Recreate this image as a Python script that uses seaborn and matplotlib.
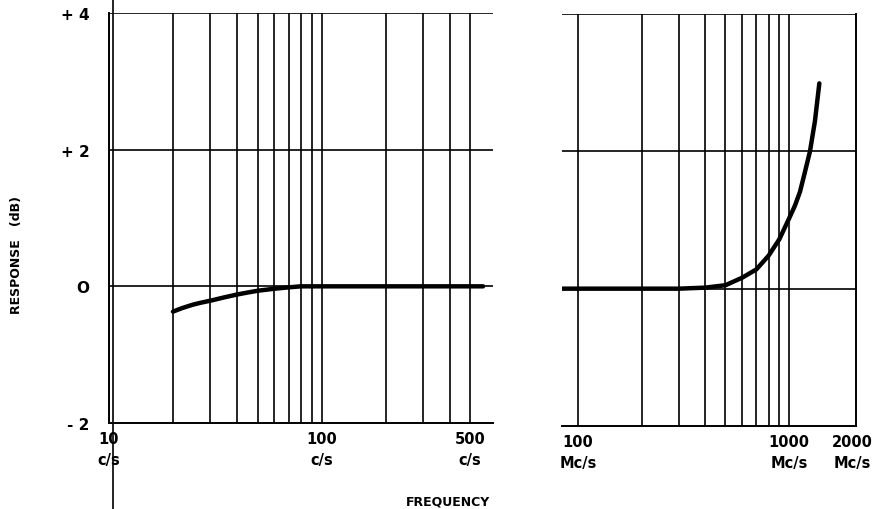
import numpy as np
import pandas as pd
import matplotlib
matplotlib.use("Agg")
import matplotlib.pyplot as plt
import seaborn as sns
from matplotlib.lines import Line2D

# ---------------- data ----------------
low_freq = [20, 22, 24.7, 27, 30, 35, 40, 45, 50, 60, 70, 80, 100, 200, 300, 500, 575]   # c/s
low_resp = [-0.37, -0.32, -0.27, -0.24, -0.21, -0.16, -0.12, -0.09, -0.065, -0.035,
            -0.015, 0.0, 0.0, 0.0, 0.0, 0.0, 0.0]

high_freq = [84, 100, 200, 300, 400, 500, 600, 700, 800, 900, 1000, 1067, 1127,
             1190, 1257, 1327, 1392]   # Mc/s
high_resp = [0.0, 0.0, 0.0, 0.0, 0.015, 0.05, 0.16, 0.28, 0.48, 0.72, 1.02, 1.21, 1.41,
             1.70, 2.0, 2.44, 2.99]

y_ticks = [-2, 0, 2, 4]
y_tick_labels = ["- 2", "O", "+ 2", "+ 4"]

low_grid = [10, 20, 30, 40, 50, 60, 70, 80, 90, 100, 200, 300, 400, 500]
low_ticks = [10, 100, 500]
low_tick_labels = ["10\nc/s", "100\nc/s", "500\nc/s"]

high_grid = [100, 200, 300, 400, 500, 600, 700, 800, 900, 1000]
high_ticks = [100, 1000, 2000]
high_tick_labels = ["100\nMc/s", "1000\nMc/s", "2000\nMc/s"]

df_low = pd.DataFrame({"freq": low_freq, "resp": low_resp})
df_high = pd.DataFrame({"freq": high_freq, "resp": high_resp})

# ---------------- figure ----------------
sns.set_theme(style="white")
plt.rcParams["font.family"] = ["DejaVu Sans"]
plt.rcParams["text.color"] = "black"
plt.rcParams["xtick.color"] = "black"
plt.rcParams["ytick.color"] = "black"
plt.rcParams["axes.labelcolor"] = "black"

fig = plt.figure(figsize=(8.92, 5.10), dpi=100)
W, H = 892, 510

def px_axes(x0, x1, ytop, ybot):
    return fig.add_axes([x0 / W, 1 - ybot / H, (x1 - x0) / W, (ybot - ytop) / H])

ax1 = px_axes(109, 493, 14, 424)
ax2 = px_axes(562, 856, 15, 427)

lw_grid = 1.2
for ax, df, grid, ticks, labels, xlim in [
    (ax1, df_low, low_grid, low_ticks, low_tick_labels, (10, 640)),
    (ax2, df_high, high_grid, high_ticks, high_tick_labels, (84, 2077)),
]:
    ax.set_xscale("log")
    ax.set_xlim(*xlim)
    ax.set_ylim(-2, 4)
    for g in grid:
        ax.axvline(g, color="black", lw=lw_grid, zorder=1)
    for yv in [0, 2, 4]:
        ax.axhline(yv, color="black", lw=lw_grid, zorder=1)
    sns.lineplot(data=df, x="freq", y="resp", ax=ax, color="black", lw=3.2,
                 zorder=3, legend=False, solid_capstyle="round")
    ax.set_xticks(ticks)
    ax.set_xticklabels(labels, fontsize=10.5, fontweight="bold", linespacing=1.5,
                       color="black")
    ax.xaxis.set_minor_locator(matplotlib.ticker.NullLocator())
    ax.tick_params(axis="x", length=0, pad=6)
    ax.set_xlabel("")
    ax.set_ylabel("")
    for s in ax.spines.values():
        s.set_color("black")
        s.set_linewidth(1.4)
    ax.spines["top"].set_visible(False)
    ax.set_facecolor("white")

ax1.spines["right"].set_visible(False)
ax2.spines["left"].set_visible(False)

ax1.set_yticks(y_ticks)
ax1.set_yticklabels(y_tick_labels, fontsize=11, fontweight="bold", color="black")
ax1.tick_params(axis="y", length=0, pad=14)
ax2.set_yticks([])

fig.text(17 / W, 1 - 255 / H, "RESPONSE   (dB)", rotation=90, ha="center", va="center",
         fontsize=9, fontweight="bold", color="black")
fig.text(448 / W, 1 - 502 / H, "FREQUENCY", ha="center", va="center",
         fontsize=9, fontweight="bold", color="black")

# stray vertical scan line across the figure
fig.add_artist(Line2D([113 / W, 113 / W], [0, 1], transform=fig.transFigure,
                      color="black", lw=1.2))

fig.savefig("out.png", dpi=100, facecolor="white")
